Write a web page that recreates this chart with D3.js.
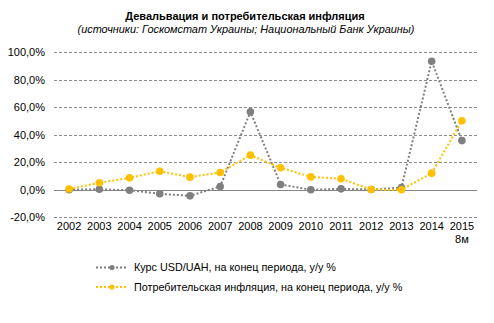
<!DOCTYPE html>
<html>
<head>
<meta charset="utf-8">
<script src="https://cdn.jsdelivr.net/npm/d3@7"></script>
<style>
  html, body { margin: 0; padding: 0; background: #fff; }
  svg { display: block; font-family: "Liberation Sans", Arial, sans-serif; }
</style>
</head>
<body>
<svg id="chart" width="494" height="323"></svg>
<script>
// Years on the x axis (last one is the first 8 months of 2015)
const years = ["2002","2003","2004","2005","2006","2007","2008","2009","2010","2011","2012","2013","2014","2015"];
const yearSub = {"2015": "8м"};
// USD/UAH exchange rate change, end of period, y/y %
const fxChange = [0, 0.4, -0.3, -2.9, -4.4, 2.4, 56.7, 3.9, 0.0, 0.7, 0.2, 1.6, 93.5, 35.8];
// Consumer inflation, end of period, y/y %
const cpi = [0.6, 5.1, 8.7, 13.5, 9.2, 12.6, 25.2, 16.0, 9.4, 8.0, 0.2, 0.0, 12.1, 50.2];
const yTicks = [-20, 0, 20, 40, 60, 80, 100];
const seriesNames = ["Курс USD/UAH,  на конец периода, у/у %", "Потребительская инфляция, на конец периода, у/у %"];
const seriesColors = ["#7f7f7f", "#ffc000"];

const svg = d3.select("#chart");
const plot = { left: 54, right: 477, top: 52.3, bottom: 217.3 };

const x = d3.scaleBand().domain(years).range([plot.left, plot.right]);
const y = d3.scaleLinear().domain([-20, 100]).range([plot.bottom, plot.top]);
const fmt = v => d3.format(".1f")(v).replace(".", ",").replace("−", "-") + "%";

// Title
svg.append("text").attr("x", 245).attr("y", 20).attr("text-anchor", "middle")
  .attr("font-size", 11).attr("font-weight", "bold").attr("fill", "#000")
  .text("Девальвация и потребительская инфляция");
svg.append("text").attr("x", 246).attr("y", 33).attr("text-anchor", "middle")
  .attr("font-size", 10.9).attr("font-style", "italic").attr("fill", "#000")
  .text("(источники: Госкомстат Украины; Национальный Банк Украины)");

// Horizontal gridlines
const grid = svg.append("g");
yTicks.forEach(t => {
  grid.append("line")
    .attr("x1", plot.left).attr("x2", plot.right)
    .attr("y1", Math.round(y(t)) + 0.5).attr("y2", Math.round(y(t)) + 0.5)
    .attr("stroke", t === 0 ? "#868686" : "#8c8c8c")
    .attr("stroke-width", 1)
    .attr("stroke-dasharray", t === 0 ? null : "3,2");
});

// Y axis labels
const yAxis = d3.axisLeft(y).tickValues(yTicks).tickFormat(fmt).tickSize(0).tickPadding(9);
svg.append("g").attr("transform", `translate(${plot.left},0)`).call(yAxis)
  .call(g => g.select(".domain").remove())
  .call(g => g.selectAll("text").attr("font-size", 11).attr("fill", "#000")
    .attr("font-family", "'Liberation Sans', Arial, sans-serif"));

// X axis labels
const xAxis = d3.axisBottom(x).tickSize(0).tickPadding(0);
const xg = svg.append("g").attr("transform", `translate(0,${plot.bottom + 5})`).call(xAxis)
  .call(g => g.select(".domain").remove());
xg.selectAll("text").attr("font-size", 11).attr("fill", "#000")
  .attr("font-family", "'Liberation Sans', Arial, sans-serif")
  .attr("dy", "0.71em")
  .each(function(d) {
    if (yearSub[d]) {
      d3.select(this).append("tspan").attr("x", 0).attr("dy", "1.15em").text(yearSub[d]);
    }
  });

// Series lines and markers
const line = d3.line().x((d, i) => x(years[i]) + x.bandwidth() / 2).y(d => y(d));
[fxChange, cpi].forEach((vals, k) => {
  svg.append("path").datum(vals)
    .attr("d", line).attr("fill", "none")
    .attr("stroke", seriesColors[k]).attr("stroke-width", 2)
    .attr("stroke-dasharray", "2,2");
  svg.append("g").selectAll("circle").data(vals).join("circle")
    .attr("cx", (d, i) => x(years[i]) + x.bandwidth() / 2)
    .attr("cy", d => y(d))
    .attr("r", 3.8)
    .attr("fill", seriesColors[k]);
});

// Legend
const legend = svg.append("g");
seriesNames.forEach((name, k) => {
  const ly = 267.5 + k * 19.5;
  legend.append("line").attr("x1", 96).attr("x2", 128).attr("y1", ly).attr("y2", ly)
    .attr("stroke", seriesColors[k]).attr("stroke-width", 2).attr("stroke-dasharray", "2,2");
  legend.append("circle").attr("cx", 112).attr("cy", ly).attr("r", 2.6).attr("fill", seriesColors[k]);
  legend.append("text").attr("x", 134).attr("y", ly).attr("dy", "0.35em")
    .attr("font-size", 10.8).attr("fill", "#000").text(name);
});
</script>
</body>
</html>
